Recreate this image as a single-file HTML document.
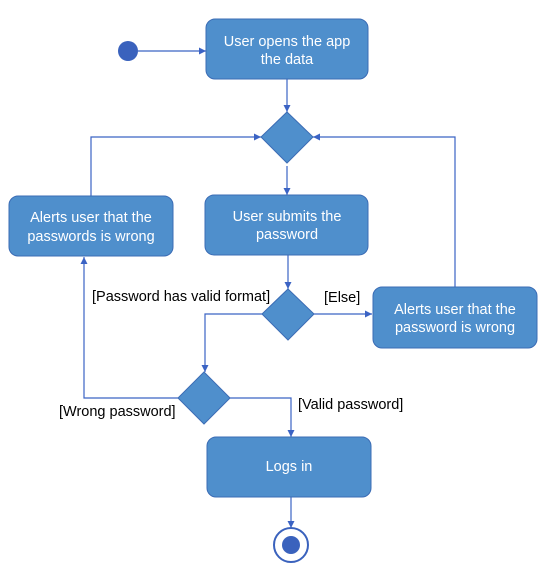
<!DOCTYPE html>
<html><head><style>body{margin:0;background:#fff}svg{display:block}text{font-family:"Liberation Sans",sans-serif;font-size:14.5px}</style></head><body>
<svg width="557" height="573" viewBox="0 0 557 573">
<defs><marker id="a" markerWidth="8" markerHeight="8" refX="7" refY="4" orient="auto" markerUnits="userSpaceOnUse"><path d="M0,0.5 L7,4 L0,7.5Z" fill="#3b63c4"/></marker></defs>
<g fill="none" stroke="#3b63c4" stroke-width="1.2" marker-end="url(#a)">
<path d="M138,51 H206"/>
<path d="M287,79 V112"/>
<path d="M91,196 V137 H261"/>
<path d="M455,287 V137 H313"/>
<path d="M287,166 V195"/>
<path d="M288,255 V289"/>
<path d="M262,314 H205 V372"/>
<path d="M314,314 H372"/>
<path d="M178,398 H84 V257"/>
<path d="M230,398 H291 V437"/>
<path d="M291,497 V528"/>
</g>
<circle cx="128" cy="51" r="10" fill="#3a62bd"/>
<g fill="#4f8fcc" stroke="#3b6cb5" stroke-width="1">
<rect x="206" y="19" width="162" height="60" rx="9"/>
<rect x="9" y="196" width="164" height="60" rx="9"/>
<rect x="205" y="195" width="163" height="60" rx="9"/>
<rect x="373" y="287" width="164" height="61" rx="9"/>
<rect x="207" y="437" width="164" height="60" rx="9"/>
<path d="M287,112 L313,137 L287,163 L261,137Z"/>
<path d="M288,289 L314,314 L288,340 L262,314Z"/>
<path d="M204,372 L230,398 L204,424 L178,398Z"/>
</g>
<circle cx="291" cy="545" r="17" fill="#fff" stroke="#3a62bd" stroke-width="2"/>
<circle cx="291" cy="545" r="9" fill="#3a62bd"/>
<g fill="#fff" text-anchor="middle">
<text x="287" y="46">User opens the app</text><text x="287" y="64">the data</text>
<text x="91" y="222">Alerts user that the</text><text x="91" y="241">passwords is wrong</text>
<text x="287" y="221">User submits the</text><text x="287" y="239">password</text>
<text x="455" y="314">Alerts user that the</text><text x="455" y="332">password is wrong</text>
<text x="289" y="471">Logs in</text>
</g>
<g fill="#000">
<text x="92" y="301">[Password has valid format]</text>
<text x="324" y="302">[Else]</text>
<text x="59" y="416">[Wrong password]</text>
<text x="298" y="409">[Valid password]</text>
</g>
</svg>
</body></html>
